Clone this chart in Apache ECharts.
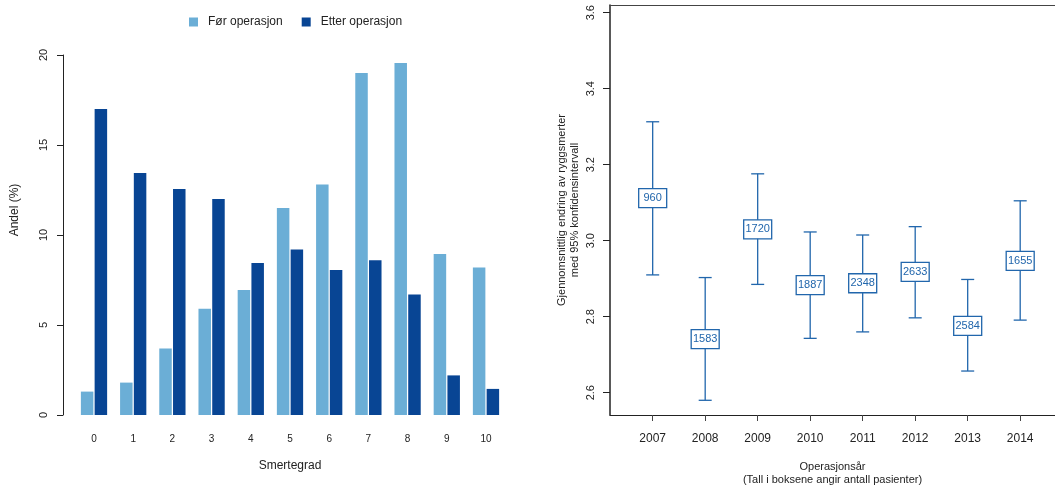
<!DOCTYPE html>
<html>
<head>
<meta charset="utf-8">
<script src="https://cdn.jsdelivr.net/npm/echarts@6/dist/echarts.min.js"></script>
<style>
  html, body { margin: 0; padding: 0; background: #fff; }
  #chart { width: 1055px; height: 488px; }
</style>
</head>
<body>
<div id="chart"></div>
<script>
// Pain score distribution before / after surgery (percent of patients)
const painGrades = ['0', '1', '2', '3', '4', '5', '6', '7', '8', '9', '10'];
const beforeSurgery = [1.3, 1.8, 3.7, 5.9, 6.95, 11.5, 12.8, 19.0, 19.55, 8.95, 8.2];
const afterSurgery = [17.0, 13.45, 12.55, 12.0, 8.45, 9.2, 8.05, 8.6, 6.7, 2.2, 1.45];
const leftTicks = [0, 5, 10, 15, 20];

// Mean change in back pain per year with 95% confidence interval
const years = [2007, 2008, 2009, 2010, 2011, 2012, 2013, 2014];
const meanChange = [3.112, 2.741, 3.030, 2.883, 2.888, 2.918, 2.776, 2.947];
const ciLower = [2.910, 2.580, 2.885, 2.743, 2.760, 2.797, 2.657, 2.791];
const ciUpper = [3.313, 2.903, 3.176, 3.023, 3.015, 3.037, 2.898, 3.105];
const patientCounts = [960, 1583, 1720, 1887, 2348, 2633, 2584, 1655];
const rightTicks = [2.6, 2.8, 3.0, 3.2, 3.4, 3.6];

const FONT = 'Liberation Sans, Arial, sans-serif';
const TEXT = '#222';
const LIGHT = '#6baed6';
const DARK = '#084594';
const CI = '#2166ac';

const ciData = years.map((y, i) => [y, ciLower[i], meanChange[i], ciUpper[i], patientCounts[i]]);

const chart = echarts.init(document.getElementById('chart'), null, { renderer: 'canvas' });

chart.setOption({
  animation: false,
  textStyle: { fontFamily: FONT, color: TEXT },
  legend: {
    left: 184,
    top: 11,
    itemWidth: 9,
    itemHeight: 9,
    itemGap: 19,
    icon: 'rect',
    data: ['Før operasjon', 'Etter operasjon'],
    textStyle: { fontSize: 12, color: TEXT, fontFamily: FONT, padding: [0, 0, 0, 5] }
  },
  grid: [
    { left: 74.4, width: 431.2, top: 55, bottom: 73, containLabel: false, outerBoundsMode: 'none' },
    { left: 610, right: 0, top: 5, bottom: 73, show: false, containLabel: false, outerBoundsMode: 'none' }
  ],
  xAxis: [
    {
      gridIndex: 0,
      type: 'category',
      data: painGrades,
      axisLine: { show: false },
      axisTick: { show: false },
      axisLabel: { fontSize: 10, color: TEXT, margin: 19, fontFamily: FONT },
      name: 'Smertegrad',
      nameLocation: 'middle',
      nameGap: 45,
      nameTextStyle: { fontSize: 12, color: TEXT, fontFamily: FONT }
    },
    {
      gridIndex: 1,
      type: 'value',
      min: 2006.187,
      max: 2014.663,
      splitLine: { show: false },
      axisLine: { show: true, lineStyle: { color: '#222', width: 1 } },
      axisTick: { show: true, length: 6, lineStyle: { color: '#444' }, customValues: years },
      axisLabel: { fontSize: 12, color: TEXT, margin: 18, fontFamily: FONT, customValues: years, formatter: v => String(v) },
      name: 'Operasjonsår\n(Tall i boksene angir antall pasienter)',
      nameLocation: 'middle',
      nameGap: 45,
      nameTextStyle: { fontSize: 11, color: TEXT, fontFamily: FONT, lineHeight: 13 }
    },
    {
      // top edge of the right-hand frame
      gridIndex: 1,
      type: 'value',
      position: 'top',
      min: 2006.187,
      max: 2014.663,
      splitLine: { show: false },
      axisLine: { show: true, lineStyle: { color: '#444', width: 1 } },
      axisTick: { show: false },
      axisLabel: { show: false }
    }
  ],
  yAxis: [
    {
      gridIndex: 0,
      type: 'value',
      min: 0,
      max: 20,
      interval: 5,
      offset: 11.4,
      splitLine: { show: false },
      axisLine: { show: true, lineStyle: { color: '#222', width: 1 } },
      axisTick: { show: true, length: 6, lineStyle: { color: '#222' }, customValues: leftTicks },
      axisLabel: { fontSize: 11, color: TEXT, margin: 14, rotate: 90, fontFamily: FONT, customValues: leftTicks }
    },
    {
      gridIndex: 1,
      type: 'value',
      min: 2.5413,
      max: 3.6203,
      splitLine: { show: false },
      axisLine: { show: true, lineStyle: { color: '#222', width: 1.5 } },
      axisTick: { show: true, length: 7, lineStyle: { color: '#222' }, customValues: rightTicks },
      axisLabel: { fontSize: 11, color: TEXT, margin: 14, rotate: 90, fontFamily: FONT, customValues: rightTicks, formatter: v => v.toFixed(1) },
      name: 'Gjennomsnittlig endring av ryggsmerter\nmed 95% konfidensintervall',
      nameLocation: 'middle',
      nameGap: 29,
      nameRotate: 90,
      nameTextStyle: { fontSize: 11, color: TEXT, fontFamily: FONT, lineHeight: 13 }
    }
  ],
  graphic: [
    {
      type: 'text',
      x: 15,
      y: 210,
      rotation: Math.PI / 2,
      style: { text: 'Andel (%)', font: '12px ' + FONT, fill: TEXT, align: 'center', verticalAlign: 'middle' }
    }
  ],
  series: [
    {
      name: 'Før operasjon',
      type: 'bar',
      xAxisIndex: 0,
      yAxisIndex: 0,
      data: beforeSurgery,
      barWidth: 12.5,
      barGap: '10%',
      itemStyle: { color: LIGHT }
    },
    {
      name: 'Etter operasjon',
      type: 'bar',
      xAxisIndex: 0,
      yAxisIndex: 0,
      data: afterSurgery,
      barWidth: 12.5,
      barGap: '10%',
      itemStyle: { color: DARK }
    },
    {
      type: 'custom',
      xAxisIndex: 1,
      yAxisIndex: 1,
      data: ciData,
      encode: { x: 0, y: [1, 2, 3] },
      renderItem: function (params, api) {
        const x = api.value(0);
        const pLo = api.coord([x, api.value(1)]);
        const pMid = api.coord([x, api.value(2)]);
        const pHi = api.coord([x, api.value(3)]);
        const n = api.value(4);
        const cap = 6.5, bw = 28, bh = 19;
        const lineStyle = { stroke: CI, lineWidth: 1.3 };
        return {
          type: 'group',
          children: [
            { type: 'line', shape: { x1: pLo[0], y1: pLo[1], x2: pHi[0], y2: pHi[1] }, style: lineStyle },
            { type: 'line', shape: { x1: pLo[0] - cap, y1: pLo[1], x2: pLo[0] + cap, y2: pLo[1] }, style: lineStyle },
            { type: 'line', shape: { x1: pHi[0] - cap, y1: pHi[1], x2: pHi[0] + cap, y2: pHi[1] }, style: lineStyle },
            { type: 'rect', shape: { x: pMid[0] - bw / 2, y: pMid[1] - bh / 2, width: bw, height: bh }, style: { fill: '#fff', stroke: CI, lineWidth: 1.3 } },
            { type: 'text', x: pMid[0], y: pMid[1], style: { text: String(n), font: '11px ' + FONT, fill: CI, align: 'center', verticalAlign: 'middle' } }
          ]
        };
      }
    }
  ]
});
</script>
</body>
</html>
